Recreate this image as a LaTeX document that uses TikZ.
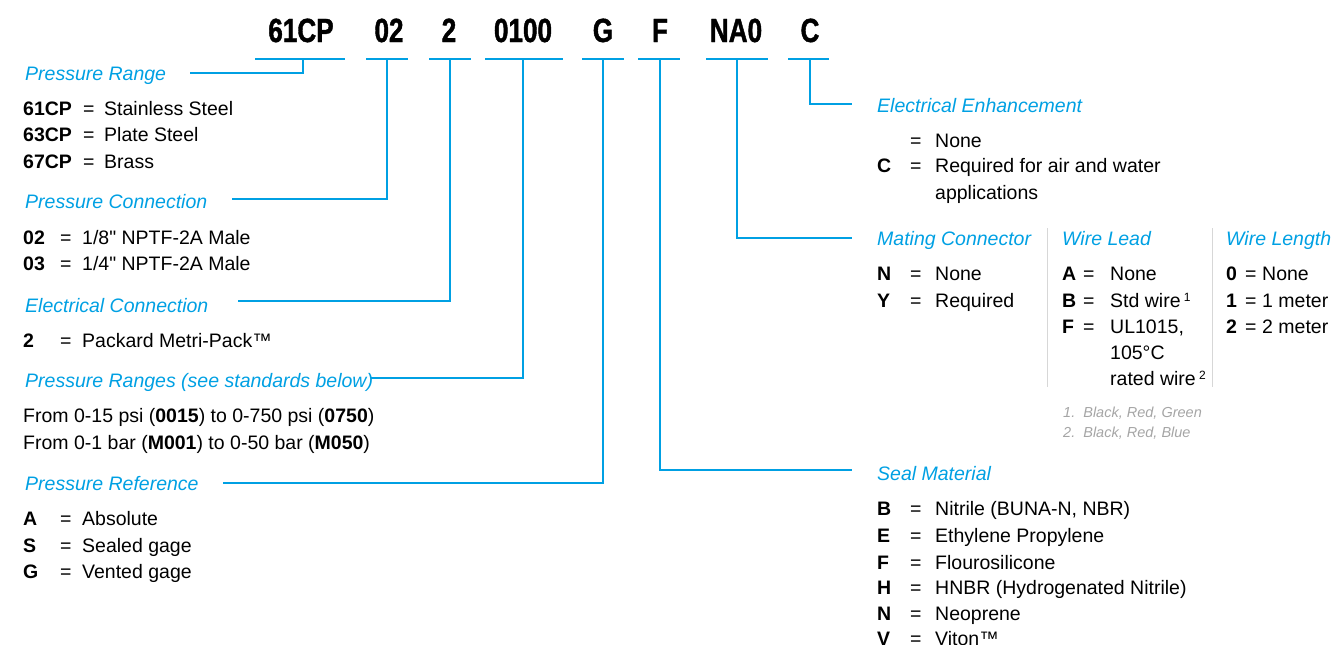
\documentclass[tikz,border=0pt]{standalone}
\usepackage{fontspec}
\setmainfont{Liberation Sans}
\newfontfamily\rawfont{Liberation Sans}
\newfontfamily\codefont[FakeStretch=0.78,FakeBold=1.2]{Liberation Sans}
\definecolor{brandblue}{RGB}{0,160,227}
\definecolor{notegray}{RGB}{165,165,165}
\definecolor{rulegray}{RGB}{215,215,215}
\newcommand{\optrow}[7]{%
  \node[key] (#1k) at (#3,#2) {#6};
  \node[body] (#1e) at (#4,#2) {=};
  \node[body] (#1t) at (#5,#2) {#7};}
\newcommand{\supnum}[1]{\,{\fontsize{12}{12}\selectfont\raisebox{5.5pt}{#1}}}
\newcommand{\inch}{{\rawfont\char"0022}}
\begin{document}
\begin{tikzpicture}[x=1pt,y=-1pt,
  body/.style={anchor=base west, inner sep=0pt, font=\fontsize{19.5}{22}\selectfont, text=black},
  key/.style={body, font=\fontsize{19.5}{22}\selectfont\bfseries},
  head/.style={anchor=base west, inner sep=0pt, font=\fontsize{19.5}{22}\selectfont\itshape, text=brandblue},
  code/.style={anchor=base, inner sep=0pt, font=\codefont\fontsize{33.5}{36}\selectfont\bfseries},
  conn/.style={draw=brandblue, line width=1.8pt},
  note/.style={anchor=base west, inner sep=0pt, font=\fontsize{14.5}{16}\selectfont\itshape, text=notegray},
  divider/.style={draw=rulegray, line width=1pt}]
\useasboundingbox (0,0) rectangle (1331,645);
\clip (0,0) rectangle (1331,645);

% model code
\node[code] (c1) at (301,42) {61CP};
\node[code] (c2) at (389,42) {02};
\node[code] (c3) at (449,42) {2};
\node[code] (c4) at (523,42) {0100};
\node[code] (c5) at (603,42) {G};
\node[code] (c6) at (660,42) {F};
\node[code] (c7) at (736,42) {NA0};
\node[code] (c8) at (810,42) {C};

% underlines
\draw[conn] (255,59) -- (345,59);
\draw[conn] (366,59) -- (408,59);
\draw[conn] (429,59) -- (471,59);
\draw[conn] (485,59) -- (563,59);
\draw[conn] (582,59) -- (624,59);
\draw[conn] (638,59) -- (680,59);
\draw[conn] (706,59) -- (768,59);
\draw[conn] (788,59) -- (829,59);

\coordinate (u1) at (303,59);
\coordinate (u2) at (387,59);
\coordinate (u3) at (450,59);
\coordinate (u4) at (523,59);
\coordinate (u5) at (603,59);
\coordinate (u6) at (660,59);
\coordinate (u7) at (737,59);
\coordinate (u8) at (810,59);

\coordinate (e1) at (190,73);
\coordinate (e2) at (232,199);
\coordinate (e3) at (238,301);
\coordinate (e4) at (371,378);
\coordinate (e5) at (223,483);
\coordinate (e6) at (852,470);
\coordinate (e7) at (852,238);
\coordinate (e8) at (852,104);

\draw[conn] (u1) |- (e1);
\draw[conn] (u2) |- (e2);
\draw[conn] (u3) |- (e3);
\draw[conn] (u4) |- (e4);
\draw[conn] (u5) |- (e5);
\draw[conn] (u6) |- (e6);
\draw[conn] (u7) |- (e7);
\draw[conn] (u8) |- (e8);

% left column
\node[head] (h1) at (25,80) {Pressure Range};
\optrow{pr1}{115}{23}{83}{104}{61CP}{Stainless Steel}
\optrow{pr2}{141.5}{23}{83}{104}{63CP}{Plate Steel}
\optrow{pr3}{168}{23}{83}{104}{67CP}{Brass}

\node[head] (h2) at (25,208) {Pressure Connection};
\optrow{pc1}{244}{23}{60}{82}{02}{1/8\inch\ NPTF-2A Male}
\optrow{pc2}{270}{23}{60}{82}{03}{1/4\inch\ NPTF-2A Male}

\node[head] (h3) at (25,312) {Electrical Connection};
\optrow{ec1}{347}{23}{60}{82}{2}{Packard Metri-Pack™}

\node[head] (h4) at (25,387) {Pressure Ranges (see standards below)};
\node[body] (rg1) at (23,422) {From 0-15 psi (\textbf{0015}) to 0-750 psi (\textbf{0750})};
\node[body] (rg2) at (23,449) {From 0-1 bar (\textbf{M001}) to 0-50 bar (\textbf{M050})};

\node[head] (h5) at (25,490) {Pressure Reference};
\optrow{rf1}{525}{23}{60}{82}{A}{Absolute}
\optrow{rf2}{552}{23}{60}{82}{S}{Sealed gage}
\optrow{rf3}{578}{23}{60}{82}{G}{Vented gage}

% right column
\node[head] (h8) at (877,112) {Electrical Enhancement};
\optrow{ee1}{147}{877}{910}{935}{}{None}
\optrow{ee2}{172}{877}{910}{935}{C}{Required for air and water}
\node[body] (ee3) at (935,199) {applications};

\node[head] (h7) at (877,245) {Mating Connector};
\optrow{mc1}{280}{877}{910}{935}{N}{None}
\optrow{mc2}{307}{877}{910}{935}{Y}{Required}

\node[head] (h7b) at (1062,245) {Wire Lead};
\optrow{wl1}{280}{1062}{1083}{1110}{A}{None}
\optrow{wl2}{307}{1062}{1083}{1110}{B}{Std wire\supnum{1}}
\optrow{wl3}{333}{1062}{1083}{1110}{F}{UL1015,}
\node[body] (wl4) at (1110,359) {105°C};
\node[body] (wl5) at (1110,385) {rated wire\supnum{2}};

\node[head] (h7c) at (1226,245) {Wire Length};
\optrow{wn1}{280}{1226}{1245}{1262}{0}{None}
\optrow{wn2}{307}{1226}{1245}{1262}{1}{1 meter}
\optrow{wn3}{333}{1226}{1245}{1262}{2}{2 meter}

\draw[divider] (1047,228) -- (1047,387);
\draw[divider] (1212,228) -- (1212,387);

\node[note] (fn1) at (1063,417) {1.\ \ Black, Red, Green};
\node[note] (fn2) at (1063,437) {2.\ \ Black, Red, Blue};

\node[head] (h6) at (877,480) {Seal Material};
\optrow{sm1}{515}{877}{910}{935}{B}{Nitrile (BUNA-N, NBR)}
\optrow{sm2}{542}{877}{910}{935}{E}{Ethylene Propylene}
\optrow{sm3}{569}{877}{910}{935}{F}{Flourosilicone}
\optrow{sm4}{594}{877}{910}{935}{H}{HNBR (Hydrogenated Nitrile)}
\optrow{sm5}{620}{877}{910}{935}{N}{Neoprene}
\optrow{sm6}{645}{877}{910}{935}{V}{Viton™}
\end{tikzpicture}
\end{document}
